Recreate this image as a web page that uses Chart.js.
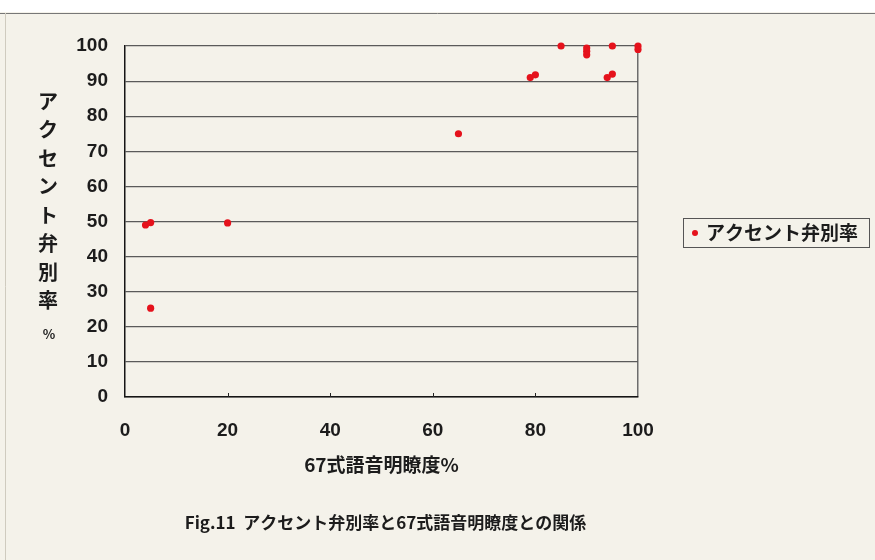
<!DOCTYPE html>
<html>
<head>
<meta charset="utf-8">
<script src="https://cdn.jsdelivr.net/npm/chart.js@4.4.1/dist/chart.umd.min.js"></script>
<style>
    html, body { margin: 0; padding: 0; background: #f4f2ea; }
    #wrap { width: 875px; height: 560px; position: relative; }
</style>
</head>
<body>
<div id="wrap"><canvas id="scatter-chart" width="875" height="560"></canvas></div>
<script>
// 67式語音明瞭度 (%) vs アクセント弁別率 (%)
const intelligibility = [4, 5, 5, 20, 65, 79, 80, 85, 90, 90, 90, 94, 95, 95, 100, 100];
const accentRate = [49, 49.7, 25.3, 49.6, 75, 91, 91.8, 100, 97.5, 98.5, 99.4, 91, 92, 100, 100, 99];
const xTicks = [0, 20, 40, 60, 80, 100];
const yTicks = [0, 10, 20, 30, 40, 50, 60, 70, 80, 90, 100];

const seriesLabel = 'アクセント弁別率';
const xTitle = '67式語音明瞭度%';
const yTitleChars = ['ア', 'ク', 'セ', 'ン', 'ト', '弁', '別', '率'];
const caption = 'Fig.11  アクセント弁別率と67式語音明瞭度との関係';

const JP = '"Noto Sans CJK JP", "DejaVu Sans", sans-serif';
const NUM = '"Liberation Sans", Arial, sans-serif';
const textColor = '#1c1c1c';
const pointRed = '#e5121c';

const points = intelligibility.map((x, i) => ({ x: x, y: accentRate[i] }));

// page frame, titles, caption, legend, inner x ticks
const decorations = {
    id: 'decorations',
    beforeDraw(chart) {
        const c = chart.ctx;
        c.save();
        c.fillStyle = '#ffffff';
        c.fillRect(0, 0, chart.width, 12);
        c.strokeStyle = '#777';
        c.lineWidth = 1;
        c.beginPath();
        c.moveTo(0, 13.5); c.lineTo(chart.width, 13.5);
        c.stroke();
        c.strokeStyle = '#cfcbbf';
        c.beginPath();
        c.moveTo(5.5, 13); c.lineTo(5.5, chart.height);
        c.stroke();
        c.restore();
    },
    afterDraw(chart) {
        const c = chart.ctx;
        const area = chart.chartArea;
        const xs = chart.scales.x;
        c.save();

        // small inside ticks on x axis
        c.strokeStyle = '#222';
        c.lineWidth = 1;
        xTicks.forEach(v => {
            if (v === 0 || v === 100) return;
            const px = Math.round(xs.getPixelForValue(v)) + 0.5;
            c.beginPath();
            c.moveTo(px, area.bottom);
            c.lineTo(px, area.bottom - 4);
            c.stroke();
        });

        c.fillStyle = textColor;
        c.textAlign = 'center';
        c.textBaseline = 'middle';

        // y title, stacked characters
        c.font = 'bold 20px ' + JP;
        yTitleChars.forEach((ch, i) => {
            c.fillText(ch, 48, 101 + i * 28.5);
        });
        c.font = 'bold 13px ' + JP;
        c.fillText('%', 49, 334);

        // x title
        c.font = 'bold 19px ' + JP;
        c.fillText(xTitle, (area.left + area.right) / 2, 465);

        // caption
        c.font = 'bold 17px ' + JP;
        c.fillText(caption, (area.left + area.right) / 2 + 4, 523);

        // legend box
        c.strokeStyle = '#555';
        c.lineWidth = 1;
        c.strokeRect(683.5, 218.5, 186, 29);
        c.fillStyle = pointRed;
        c.beginPath();
        c.arc(695, 233, 3, 0, Math.PI * 2);
        c.fill();
        c.fillStyle = textColor;
        c.textAlign = 'left';
        c.font = 'bold 19px ' + JP;
        c.fillText(seriesLabel, 706, 233);

        c.restore();
    }
};

const ctx = document.getElementById('scatter-chart');
new Chart(ctx, {
    type: 'scatter',
    data: {
        datasets: [{
            label: seriesLabel,
            data: points,
            backgroundColor: pointRed,
            borderColor: pointRed,
            borderWidth: 0,
            pointRadius: 3.6,
            pointHoverRadius: 3.6,
            clip: false
        }]
    },
    options: {
        responsive: false,
        animation: false,
        layout: {
            padding: { top: 46, right: 237, bottom: 0, left: 0 }
        },
        plugins: {
            legend: { display: false },
            tooltip: { enabled: false }
        },
        scales: {
            x: {
                type: 'linear',
                min: 0,
                max: 100,
                afterFit(scale) { scale.height = 163; },
                afterBuildTicks(scale) { scale.ticks = xTicks.map(v => ({ value: v })); },
                grid: {
                    drawTicks: false,
                    color: c => (c.tick && c.tick.value === 100) ? '#6d6d6d' : 'rgba(0,0,0,0)',
                    lineWidth: 1.5
                },
                border: { display: true, color: '#151515', width: 1.5 },
                ticks: {
                    padding: 22,
                    color: textColor,
                    font: { family: NUM, size: 19, weight: 'bold' },
                    maxRotation: 0
                }
            },
            y: {
                type: 'linear',
                min: 0,
                max: 100,
                afterFit(scale) { scale.width = 125; },
                afterBuildTicks(scale) { scale.ticks = yTicks.map(v => ({ value: v })); },
                grid: {
                    drawTicks: false,
                    color: '#5a5a5a',
                    lineWidth: 1.2
                },
                border: { display: true, color: '#151515', width: 1.5 },
                ticks: {
                    padding: 17,
                    color: textColor,
                    font: { family: NUM, size: 19, weight: 'bold' }
                }
            }
        }
    },
    plugins: [decorations]
});
</script>
</body>
</html>
